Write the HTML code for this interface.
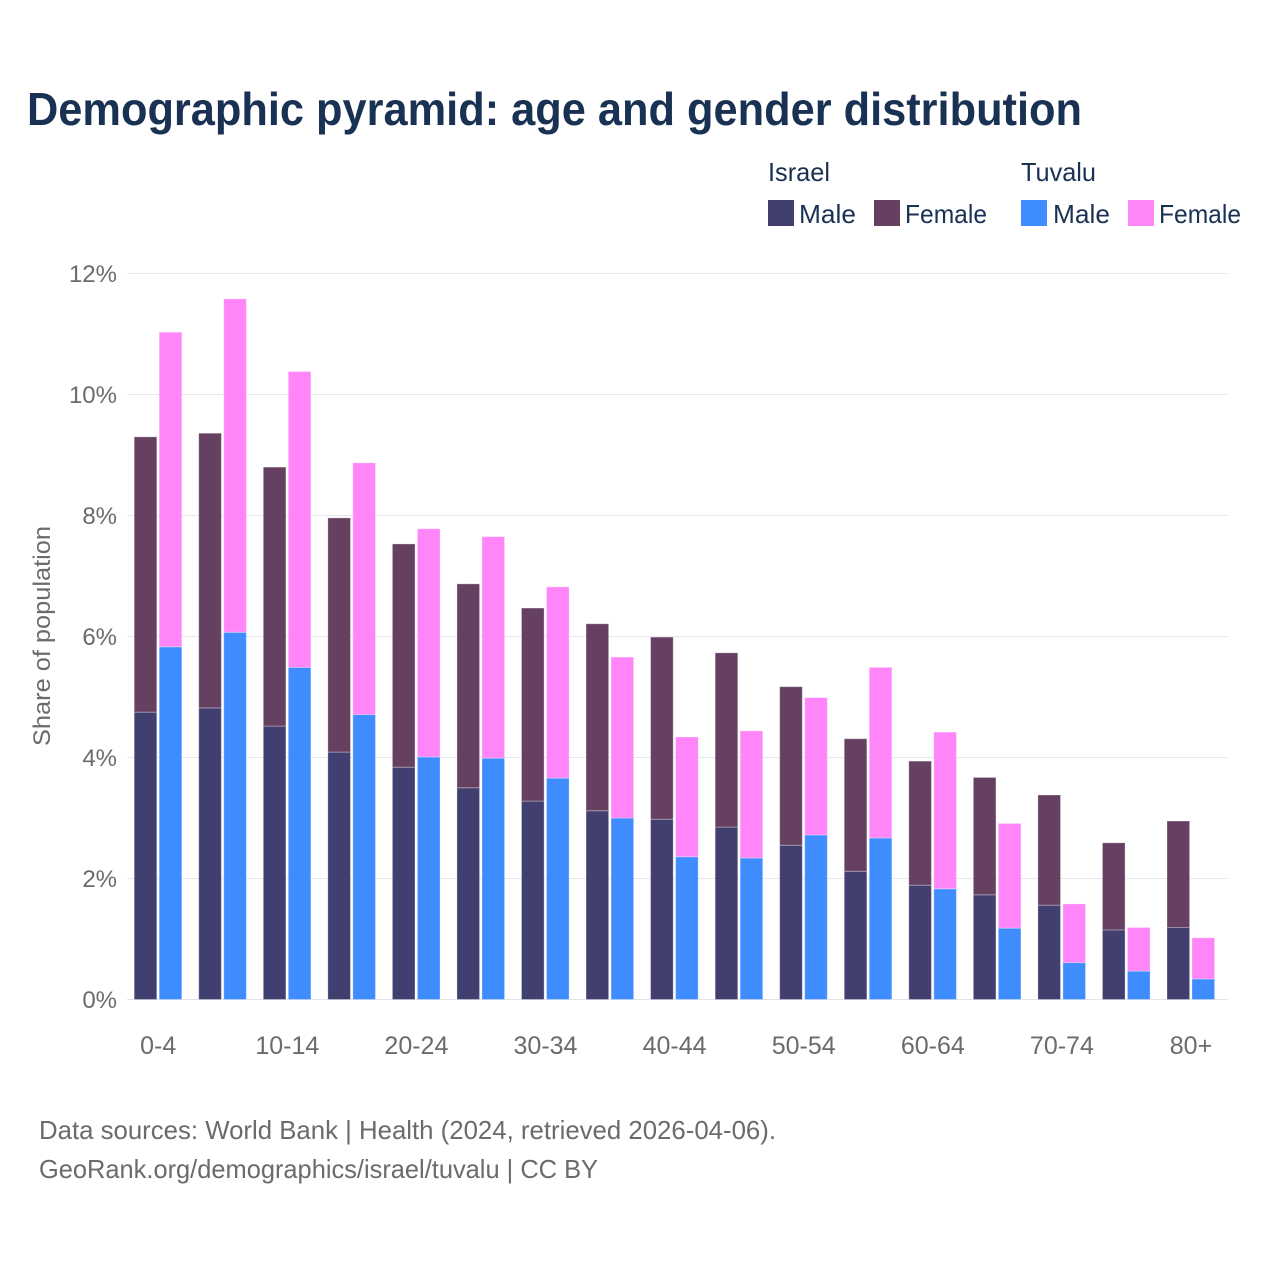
<!DOCTYPE html>
<html>
<head>
<meta charset="utf-8">
<title>Demographic pyramid</title>
<style>
html,body{margin:0;padding:0;background:#fff;}
svg{display:block;font-family:"Liberation Sans",sans-serif;}
</style>
</head>
<body>
<svg id="chart" xmlns="http://www.w3.org/2000/svg" width="1280" height="1280" viewBox="0 0 1280 1280">
  <text x="27" y="125" font-size="46" font-weight="700" fill="#193153" textLength="1055" lengthAdjust="spacingAndGlyphs">Demographic pyramid: age and gender distribution</text>

  <g font-size="26" fill="#193153">
    <text x="768" y="181" textLength="62" lengthAdjust="spacingAndGlyphs">Israel</text>
    <text x="1021" y="181" textLength="75" lengthAdjust="spacingAndGlyphs">Tuvalu</text>
    <rect x="768" y="200" width="26" height="26" fill="#413e70"/>
    <text x="799" y="223" textLength="57" lengthAdjust="spacingAndGlyphs">Male</text>
    <rect x="874" y="200" width="26" height="26" fill="#664061"/>
    <text x="905" y="223" textLength="82" lengthAdjust="spacingAndGlyphs">Female</text>
    <rect x="1021" y="200" width="26" height="26" fill="#3f8cff"/>
    <text x="1053" y="223" textLength="57" lengthAdjust="spacingAndGlyphs">Male</text>
    <rect x="1128" y="200" width="26" height="26" fill="#ff85f8"/>
    <text x="1159" y="223" textLength="82" lengthAdjust="spacingAndGlyphs">Female</text>
  </g>

  <g id="grid"></g>
  <g id="bars"></g>
  <g id="yticks" font-size="24" fill="#6b6b6b" text-anchor="end"></g>
  <g id="xticks" font-size="25" fill="#6b6b6b" text-anchor="middle"></g>

  <text transform="translate(50,636) rotate(-90)" font-size="24" fill="#6b6b6b" text-anchor="middle" textLength="220" lengthAdjust="spacingAndGlyphs">Share of population</text>

  <text x="39" y="1139" font-size="26" fill="#6b6b6b" textLength="737" lengthAdjust="spacingAndGlyphs">Data sources: World Bank | Health (2024, retrieved 2026-04-06).</text>
  <text x="39" y="1178" font-size="26" fill="#6b6b6b" textLength="559" lengthAdjust="spacingAndGlyphs">GeoRank.org/demographics/israel/tuvalu | CC BY</text>
</svg>
<script>
const categories = ["0-4","5-9","10-14","15-19","20-24","25-29","30-34","35-39","40-44","45-49","50-54","55-59","60-64","65-69","70-74","75-79","80+"];
const xTickLabels = ["0-4","10-14","20-24","30-34","40-44","50-54","60-64","70-74","80+"];
const yTicks = [0,2,4,6,8,10,12];
const israelMale = [4.75,4.82,4.52,4.09,3.84,3.50,3.28,3.12,2.98,2.85,2.55,2.12,1.89,1.73,1.56,1.15,1.19];
const israelFemale = [4.55,4.54,4.28,3.87,3.69,3.37,3.19,3.09,3.01,2.88,2.62,2.19,2.05,1.94,1.82,1.44,1.76];
const tuvaluMale = [5.83,6.07,5.49,4.71,4.01,3.99,3.66,3.00,2.36,2.34,2.72,2.67,1.83,1.18,0.61,0.47,0.34];
const tuvaluFemale = [5.20,5.51,4.89,4.16,3.77,3.66,3.16,2.66,1.98,2.10,2.27,2.82,2.59,1.73,0.97,0.72,0.68];

const NS = "http://www.w3.org/2000/svg";
const plotLeft = 127, plotRight = 1228, y0 = 999.5, pxPerUnit = 60.5;
const firstCenter = 158.2, step = 64.55, barW = 22.6;

function yScale(v){ return y0 - v * pxPerUnit; }
function xCenter(cat){ return firstCenter + categories.indexOf(cat) * step; }

function addBar(parent, x, base, val, fill, name){
  const r = document.createElementNS(NS, "rect");
  r.setAttribute("x", x);
  r.setAttribute("y", yScale(base + val));
  r.setAttribute("width", barW);
  r.setAttribute("height", val * pxPerUnit);
  r.setAttribute("fill", fill);
  r.setAttribute("stroke", "#ffffff");
  r.setAttribute("stroke-opacity", "0.3");
  r.setAttribute("stroke-width", "1");
  
  
  parent.appendChild(r);
}

const gridG = document.getElementById("grid");
const yG = document.getElementById("yticks");
yTicks.forEach(function(t){
  const l = document.createElementNS(NS, "line");
  l.setAttribute("x1", plotLeft);
  l.setAttribute("x2", plotRight);
  l.setAttribute("y1", yScale(t));
  l.setAttribute("y2", yScale(t));
  l.setAttribute("stroke", t === 0 ? "#e2e2e8" : "#e6e6ec");
  l.setAttribute("stroke-width", "1");
  
  
  gridG.appendChild(l);
  const tx = document.createElementNS(NS, "text");
  tx.setAttribute("x", 117);
  tx.setAttribute("y", yScale(t) + 8.5);
  tx.textContent = t + "%";
  
  
  yG.appendChild(tx);
});

const xG = document.getElementById("xticks");
xTickLabels.forEach(function(c){
  const tx = document.createElementNS(NS, "text");
  tx.setAttribute("x", xCenter(c));
  tx.setAttribute("y", 1054);
  tx.textContent = c;
  
  
  xG.appendChild(tx);
});

const barsG = document.getElementById("bars");
categories.forEach(function(c, i){
  const cx = xCenter(c);
  addBar(barsG, cx - 24, 0, israelMale[i], "#413e70", "bar-israel-male-" + c);
  addBar(barsG, cx - 24, israelMale[i], israelFemale[i], "#664061", "bar-israel-female-" + c);
  addBar(barsG, cx + 1, 0, tuvaluMale[i], "#3f8cff", "bar-tuvalu-male-" + c);
  addBar(barsG, cx + 1, tuvaluMale[i], tuvaluFemale[i], "#ff85f8", "bar-tuvalu-female-" + c);
});
</script>
</body>
</html>
